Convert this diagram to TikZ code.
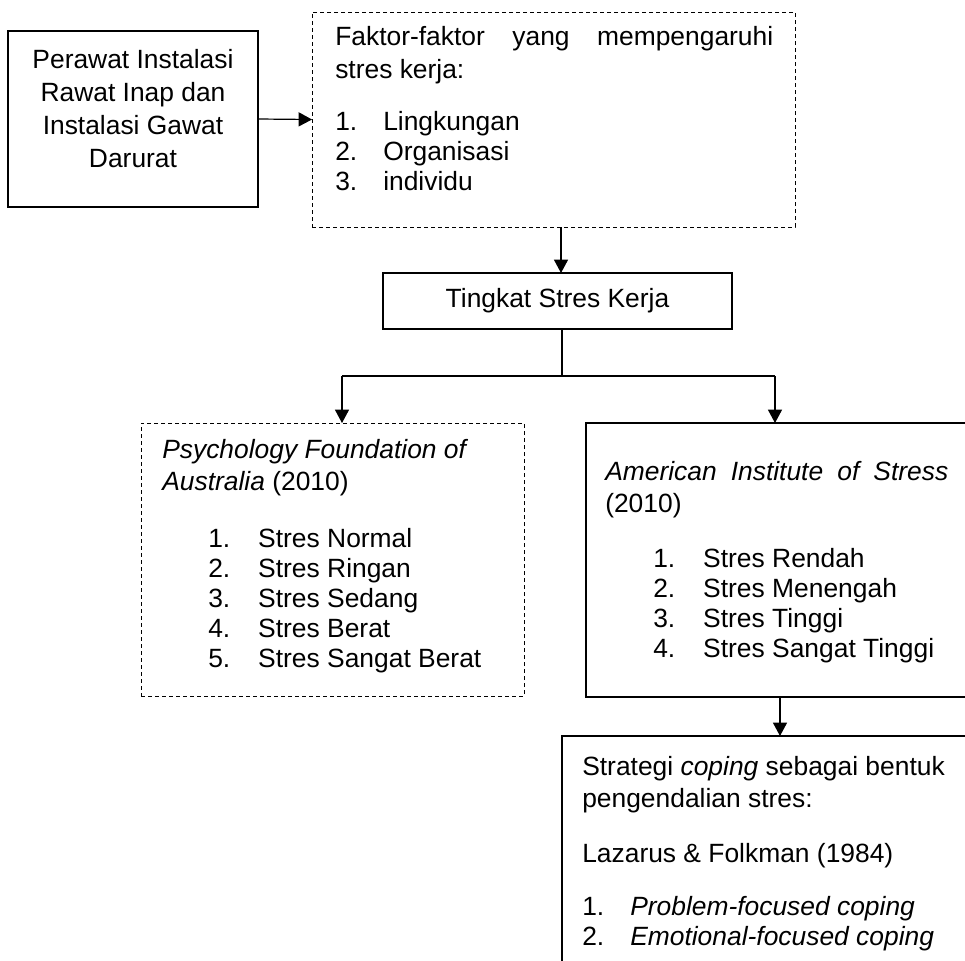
\documentclass[tikz,border=0pt]{standalone}
\usepackage{fontspec}
\setmainfont{Liberation Sans}
\usetikzlibrary{arrows.meta}
\begin{document}
\begin{tikzpicture}[x=0.75pt,y=-0.75pt,
  box/.style={draw, line width=0.9pt, inner sep=0, outer sep=0},
  dbox/.style={box, line width=0.75pt, dash pattern=on 3pt off 2.25pt},
  txt/.style={inner sep=0, anchor=north west, align=left, font=\fontsize{19.8pt}{22.5pt}\selectfont},
  arr/.style={-{Triangle[length=10pt,width=10.5pt]}, line width=0.9pt},
  ln/.style={line width=0.9pt}]
\clip (0,0) rectangle (965,961);

% boxes
\node[box, minimum width=187.5pt, minimum height=132pt] (A) at (133,119) {};
\node[dbox, minimum width=362.25pt, minimum height=161.25pt] (B) at (553.5,119.5) {};
\node[box, minimum width=261.75pt, minimum height=42pt, font=\fontsize{19.8pt}{22.5pt}\selectfont] (C) at (557.5,301) {Tingkat Stres Kerja};
\node[dbox, minimum width=287.25pt, minimum height=204.75pt] (D) at (332.5,559.5) {};
\node[box, minimum width=310.5pt, minimum height=205.5pt] (E) at (793,560) {};
\node[box, minimum width=328.5pt, minimum height=198pt] (F) at (781,868) {};

% texts
\node[txt, anchor=north, align=center] (tA) at (133,47) {\strut Perawat Instalasi\\[2.25pt] Rawat Inap dan\\[2.25pt] Instalasi Gawat\\[2.25pt] Darurat};

\node[txt] (tB) at (335,24) {\strut\makebox[328.5pt][s]{Faktor-faktor yang mempengaruhi}\\[2.25pt]
stres kerja:\\[16.5pt]
\makebox[36pt][l]{1.}Lingkungan\\
\makebox[36pt][l]{2.}Organisasi\\
\makebox[36pt][l]{3.}individu};

\node[txt] (tD) at (162,437) {\strut\textit{Psychology Foundation of}\\[1.5pt]
\textit{Australia} (2010)\\[20.25pt]
\hspace*{34.5pt}\makebox[37.5pt][l]{1.}Stres Normal\\
\hspace*{34.5pt}\makebox[37.5pt][l]{2.}Stres Ringan\\
\hspace*{34.5pt}\makebox[37.5pt][l]{3.}Stres Sedang\\
\hspace*{34.5pt}\makebox[37.5pt][l]{4.}Stres Berat\\
\hspace*{34.5pt}\makebox[37.5pt][l]{5.}Stres Sangat Berat};

\node[txt] (tE) at (605,459) {\strut\makebox[257.25pt][s]{\itshape American Institute of Stress}\\[1.5pt]
(2010)\\[18.75pt]
\hspace*{36pt}\makebox[37.5pt][l]{1.}Stres Rendah\\
\hspace*{36pt}\makebox[37.5pt][l]{2.}Stres Menengah\\
\hspace*{36pt}\makebox[37.5pt][l]{3.}Stres Tinggi\\
\hspace*{36pt}\makebox[37.5pt][l]{4.}Stres Sangat Tinggi};

\node[txt] (tF) at (582,754) {\strut Strategi \textit{coping} sebagai bentuk\\[1.5pt]
pengendalian stres:\\[18.75pt]
Lazarus \& Folkman (1984)\\[17.25pt]
\makebox[36pt][l]{1.}\textit{Problem-focused coping}\\
\makebox[36pt][l]{2.}\textit{Emotional-focused coping}};

% connectors
\draw[arr] (A.east) -- (B.west);
\coordinate (xb) at (561,0);
\draw[arr] (B.south -| xb) -- (C.north -| xb);
\coordinate (xc) at (562,376);
\draw[ln] (C.south -| xc) -- (xc);
\coordinate (jl) at (342,376);
\coordinate (jr) at (775,376);
\draw[ln] (jl) -- (jr);
\draw[arr] (jl) -- (jl |- D.north);
\draw[arr] (jr) -- (jr |- E.north);
\coordinate (xe) at (780,0);
\draw[arr] (E.south -| xe) -- (F.north -| xe);
\end{tikzpicture}
\end{document}
